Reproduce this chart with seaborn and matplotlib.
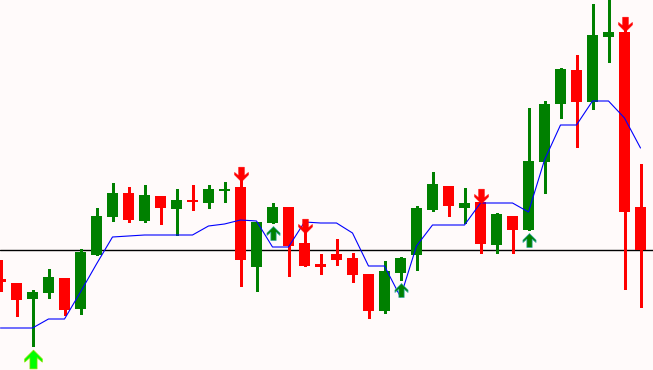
import numpy as np
import pandas as pd
import matplotlib
matplotlib.use("Agg")
import matplotlib.pyplot as plt
from matplotlib.path import Path
import seaborn as sns

# ---- data (price units) ----
opens = [91, 87, 71, 77, 92, 61, 115, 153, 177, 149, 174, 161, 170, 167, 179,
         183, 103, 147, 163, 127, 106, 116, 112, 96, 59, 97, 115, 160, 184, 162,
         168, 125, 154, 140, 208, 266, 300, 268, 333, 338, 163]
closes = [88, 70, 78, 93, 60, 118, 154, 177, 150, 175, 162, 170, 168, 181, 181,
          110, 148, 163, 124, 104, 103, 110, 95, 59, 99, 112, 162, 186, 164, 167,
          126, 156, 140, 209, 266, 301, 268, 335, 338, 158, 120]
highs = [110, 87, 80, 101, 92, 121, 162, 187, 183, 185, 174, 181, 185, 185, 188,
         190, 148, 167, 163, 138, 116, 131, 117, 96, 109, 113, 164, 198, 184, 182,
         168, 157, 154, 262, 269, 302, 315, 366, 372, 340, 206]
lows = [79, 54, 24, 72, 55, 56, 115, 149, 148, 148, 146, 135, 160, 162, 168,
        84, 79, 147, 94, 104, 96, 105, 88, 52, 57, 90, 100, 159, 154, 147,
        117, 117, 117, 140, 177, 252, 223, 261, 308, 81, 63]
signal_line = [42, 42, 42, 51, 51, 78, 106, 133, 134, 135, 135, 135, 135, 144, 146,
               150, 149, 123, 123, 148, 147, 147, 137, 104, 104, 73, 124, 145, 145, 145,
               167, 167, 167, 158, 210, 245, 245, 269, 269, 252, 222]
level = 120
up_signals = [2, 17, 25, 33]
down_signals = [15, 19, 30, 39]
strong_up = [2]

BG = "#FFFAFA"
GREEN = "#008000"
RED = "#FF0000"

sns.set_theme(style="white")
plt.rcParams["font.family"] = ["DejaVu Sans"]

fig = plt.figure(figsize=(6.53, 3.70), dpi=100, facecolor=BG)
ax = fig.add_axes([0, 0, 1, 1])
ax.set_facecolor(BG)

n = len(opens)
x = np.arange(n)
o = np.array(opens, float)
c = np.array(closes, float)
h = np.array(highs, float)
l = np.array(lows, float)
colors = [GREEN if cc >= oo else RED for oo, cc in zip(o, c)]

# horizontal level
ax.axhline(level, color="black", lw=1.0, zorder=1)

# wicks
ax.vlines(x, l, h, colors=colors, lw=0.75, antialiased=False, zorder=2)
# bodies
bottom = np.minimum(o, c)
height = np.maximum(np.abs(c - o), 1.5)
ax.bar(x, height, bottom=bottom, width=11 / 16, color=colors, linewidth=0,
       antialiased=False, zorder=3)

# signal line
df = pd.DataFrame({"idx": x, "val": signal_line})
sns.lineplot(data=df, x="idx", y="val", color="#0000FF", lw=0.8, ax=ax, zorder=4)

# arrows
up_verts = [(0, 0.5), (0.47, 0.03), (0.47, -0.14), (0.19, 0.1), (0.19, -0.5),
            (-0.19, -0.5), (-0.19, 0.1), (-0.47, -0.14), (-0.47, 0.03), (0, 0.5)]
up_path = Path(up_verts, closed=True)
down_path = Path([(vx, -vy) for vx, vy in up_verts], closed=True)

for i in up_signals:
    if i in strong_up:
        ax.scatter([i], [l[i] - 13], marker=up_path, s=13.5 ** 2, color="#00FF00",
                   edgecolors="#8CE000", linewidths=0.5, zorder=5)
    else:
        ax.scatter([i], [l[i] - 10], marker=up_path, s=10 ** 2, color=GREEN,
                   edgecolors="#2FA8A0", linewidths=0.5, zorder=5)
for i in down_signals:
    ax.scatter([i], [h[i] + 6], marker=down_path, s=10.5 ** 2, color=RED,
               edgecolors=RED, linewidths=0.4, zorder=5)

ax.set_xlim(-0.5 / 16, 652.5 / 16)
ax.set_ylim(0, 370)
ax.set_xlabel("")
ax.set_ylabel("")
ax.set_xticks([])
ax.set_yticks([])
for s in ax.spines.values():
    s.set_visible(False)

fig.savefig("out.png", dpi=100, facecolor=BG)
